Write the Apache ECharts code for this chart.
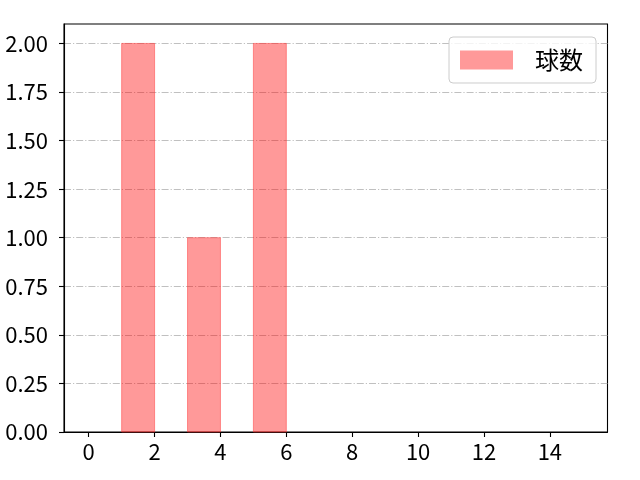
<!DOCTYPE html>
<html><head><meta charset="utf-8">
<script src="https://cdn.jsdelivr.net/npm/echarts@6/dist/echarts.min.js"></script>
<style>html,body{margin:0;padding:0;background:#fff}#c{width:640px;height:480px}</style>
</head><body><div id="c"></div>
<script>
// Histogram bins (left edge, right edge) and counts
const binStarts = [1, 3, 5];
const binEnds = [2, 4, 6];
const counts = [2, 1, 2];
const seriesName = '球数';
const xTicks = [0, 2, 4, 6, 8, 10, 12, 14];
const yTicks = [0, 0.25, 0.5, 0.75, 1.0, 1.25, 1.5, 1.75, 2.0];

const FONT = 'Noto Sans CJK JP';
const data = binStarts.map((s, i) => [s, binEnds[i], counts[i]]);

const chart = echarts.init(document.getElementById('c'), null, {renderer: 'canvas'});
chart.setOption({
  animation: false,
  backgroundColor: '#fff',
  grid: {left: 64, right: 32.5, top: 24, bottom: 48, show: true, borderColor: '#000', borderWidth: 1.1, backgroundColor: 'transparent'},
  legend: {
    right: 44, top: 37,
    data: [{name: seriesName, icon: 'rect'}],
    itemWidth: 53, itemHeight: 19,
    padding: [11, 13, 11, 11],
    borderColor: '#cccccc', borderWidth: 1, borderRadius: 4,
    backgroundColor: 'rgba(255,255,255,0.8)',
    textStyle: {fontFamily: FONT, fontSize: 24, color: '#000', padding: [0, 0, 0, 17]}
  },
  xAxis: {
    type: 'value', min: -0.75, max: 15.75,
    axisLine: {show: true, onZero: false, lineStyle: {color: '#000', width: 1.1}},
    axisTick: {show: true, length: 5, lineStyle: {color: '#000', width: 1.1}, customValues: xTicks},
    axisLabel: {customValues: xTicks, fontFamily: FONT, fontSize: 22, color: '#000', margin: 9,
      formatter: v => String(v)},
    splitLine: {show: false}
  },
  yAxis: {
    type: 'value', min: 0, max: 2.1,
    axisLine: {show: true, onZero: false, lineStyle: {color: '#000', width: 1.1}},
    axisTick: {show: true, length: 5, lineStyle: {color: '#000', width: 1.1}, customValues: yTicks},
    axisLabel: {customValues: yTicks, fontFamily: FONT, fontSize: 22, color: '#000', margin: 16,
      formatter: v => v.toFixed(2)},
    splitLine: {show: true, lineStyle: {color: '#b0b0b0', width: 0.8, type: [7, 2, 1.2, 2]}}
  },
  series: [{
    name: seriesName,
    type: 'custom',
    itemStyle: {color: 'rgba(255,0,0,0.4)'},
    encode: {x: [0, 1], y: 2},
    data: data,
    renderItem: function (params, api) {
      const p0 = api.coord([api.value(0), api.value(2)]);
      const p1 = api.coord([api.value(1), 0]);
      return {
        type: 'rect',
        shape: {x: p0[0], y: p0[1], width: p1[0] - p0[0], height: p1[1] - p0[1]},
        style: {fill: 'rgba(255,0,0,0.4)', stroke: 'rgba(255,60,60,0.5)', lineWidth: 1}
      };
    }
  }]
});
</script>
</body></html>
